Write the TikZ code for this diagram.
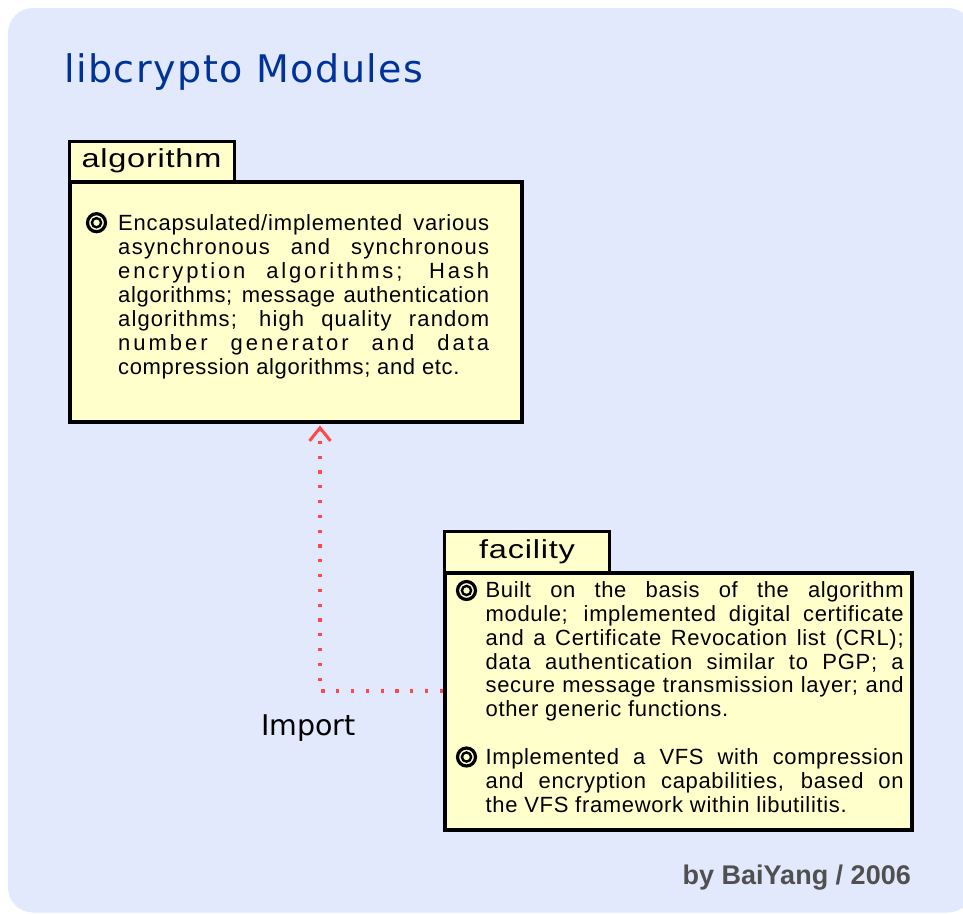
\documentclass[tikz,border=0pt]{standalone}
\usepackage{fontspec}
\setmainfont{Liberation Sans}
\newfontfamily\bodyfont{Liberation Sans}
\newfontfamily\tabfont[FakeStretch=1.25, LetterSpace=3]{Liberation Sans}
\newfontfamily\titlefont[LetterSpace=4]{DejaVu Sans}
\newfontfamily\labelfont{DejaVu Sans}
\usetikzlibrary{arrows.meta}
\definecolor{canvas}{RGB}{227,233,253}
\definecolor{notefill}{RGB}{255,255,204}
\definecolor{titleblue}{RGB}{0,51,153}
\definecolor{linkred}{RGB}{255,72,72}
\definecolor{signgray}{RGB}{80,80,80}
% one justified line of a note, with its own letter spacing
\newcommand{\jline}[2]{\makebox[\linewidth][s]{\addfontfeatures{LetterSpace=#1}#2}\par}
% last (ragged) line of a paragraph
\newcommand{\lline}[1]{\mbox{\addfontfeatures{LetterSpace=3}#1}\par}
\tikzset{
  tabbox/.style={draw=black, fill=notefill, line width=3pt,
    minimum width=165pt, minimum height=40.5pt, inner sep=0pt,
    text height=18.6pt, text depth=5.5pt,
    font=\tabfont\fontsize{26}{28}\selectfont},
  modbox/.style={draw=black, fill=notefill, line width=4pt, inner sep=0pt,
    anchor=north west},
  notetext/.style={anchor=base west, inner sep=0pt},
  link/.style={draw=linkred, line width=3.3pt, dash pattern=on 3.3pt off 11.5pt,
    -{Straight Barb[length=13pt,width=21pt,line width=3pt]}, shorten >=1.5pt},
  ring/.pic={
    \draw[line width=3.2pt] (0,0) circle[radius=9pt];
    \draw[line width=2.4pt] (0,0) circle[radius=4.6pt];
  }
}
\begin{document}
\begin{tikzpicture}[x=1pt,y=-1pt]
  \useasboundingbox (0,0) rectangle (963,913);
  \fill[canvas, rounded corners=25pt] (8,8) rectangle (973,912.5);

  % title
  \node[anchor=base west, inner sep=0pt, text=titleblue,
        font=\titlefont\fontsize{38}{40}\selectfont] (title) at (64,82) {libcrypto Modules};

  % algorithm module
  \node[tabbox, anchor=north west] (algtab) at (67.5,139.5) {algorithm};
  \node[modbox, minimum width=452.8pt, minimum height=240pt] (alg) at (67.5,180) {};
  \pic at (96.5,222.7) {ring};
  \node[notetext] (algtext) at (118,230.7) {\parbox[t]{371pt}{\bodyfont\fontsize{22}{23.93}\selectfont
    \jline{3.7}{Encapsulated/implemented various}
    \jline{6.1}{asynchronous and synchronous}
    \jline{13}{encryption algorithms; Hash}
    \jline{3}{algorithms; message authentication}
    \jline{5.1}{algorithms; high quality random}
    \jline{13.5}{number generator and data}
    \lline{compression algorithms; and etc.}}};

  % facility module
  \node[tabbox, anchor=north west] (factab) at (443,530) {facility};
  \node[modbox, minimum width=467pt, minimum height=256.5pt] (fac) at (443,571) {};
  \pic at (466.5,590.5) {ring};
  \pic at (466.5,757) {ring};
  \node[notetext] (factext) at (485.5,597.3) {\parbox[t]{418pt}{\bodyfont\fontsize{22}{23.9}\selectfont
    \jline{2.9}{Built on the basis of the algorithm}
    \jline{2.9}{module; implemented digital certificate}
    \jline{3.2}{and a Certificate Revocation list (CRL);}
    \jline{3.6}{data authentication similar to PGP; a}
    \jline{3}{secure message transmission layer; and}
    \lline{other generic functions.}
    \mbox{}\par
    \jline{2.8}{Implemented a VFS with compression}
    \jline{3}{and encryption capabilities, based on}
    \lline{the VFS framework within libutilitis.}}};

  % import dependency
  \coordinate (bend) at (320,691);
  \draw[link] (fac.west |- bend) -- (bend) -- (alg.south -| bend);
  \node[anchor=base west, inner sep=0pt, font=\labelfont\fontsize{28.5}{30}\selectfont]
    (import) at (261,735) {Import};

  % signature
  \node[anchor=base east, inner sep=0pt, text=signgray,
        font=\bfseries\fontsize{27}{29}\selectfont] (sign) at (911,884) {by BaiYang / 2006};
\end{tikzpicture}
\end{document}
